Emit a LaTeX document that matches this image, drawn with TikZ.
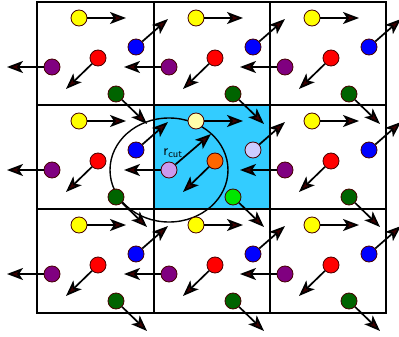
\documentclass[tikz,border=0pt]{standalone}
\usepackage{tikz}
\usetikzlibrary{arrows.meta}

\definecolor{cellblue}{RGB}{51,204,255}
\definecolor{ballrim}{RGB}{70,0,0}
\definecolor{tipred}{RGB}{60,0,0}
\definecolor{yelN}{RGB}{255,255,0}
\definecolor{bluN}{RGB}{0,0,255}
\definecolor{redN}{RGB}{255,0,0}
\definecolor{purN}{RGB}{128,0,128}
\definecolor{grnN}{RGB}{0,100,0}
\definecolor{yelL}{RGB}{255,255,170}
\definecolor{bluL}{RGB}{204,204,255}
\definecolor{redL}{RGB}{255,102,0}
\definecolor{purL}{RGB}{204,153,238}
\definecolor{grnL}{RGB}{0,230,0}

\begin{document}
\begin{tikzpicture}[x=1pt, y=-1pt]
		\tikzstyle{ball} = [circle, draw=ballrim, line width=0.8pt, minimum size=16pt, inner sep=0pt]
		\tikzstyle{vec} = [line width=1.7pt, -{Stealth[length=16pt, width=12pt, inset=4pt, fill=tipred]}]
		\tikzstyle{cell} = [line width=1.6pt]

		\useasboundingbox (0,0) rectangle (399,337);
		\clip (0,0) rectangle (399,337);

		\fill[cellblue] (154,105) rectangle (270,209);
		\draw[cell] (37,2) rectangle (386,313);
		\foreach \x in {154, 270} \draw[cell] (\x,2) -- (\x,313);
		\foreach \y in {105, 209} \draw[cell] (37,\y) -- (386,\y);

		\coordinate (cutc) at (169,170);
		\draw[line width=1.4pt] (cutc) ellipse [x radius=59, y radius=52];

		\foreach \cx/\cy/\n/\s in {37/2/a/N, 154/2/b/N, 270/2/c/N, 37/105/d/N, 154/105/e/L, 270/105/f/N, 37/209/g/N, 154/209/h/N, 270/209/i/N} {
			\node[ball, fill=yel\s] at ({\cx+42},{\cy+16}) (y\n) {};
			\node[ball, fill=blu\s] at ({\cx+99},{\cy+45}) (b\n) {};
			\node[ball, fill=red\s] at ({\cx+61},{\cy+56}) (r\n) {};
			\node[ball, fill=pur\s] at ({\cx+15},{\cy+65}) (p\n) {};
			\node[ball, fill=grn\s] at ({\cx+79},{\cy+92}) (g\n) {};

			\coordinate (vy\n) at ({\cx+89},{\cy+16});
			\coordinate (vb\n) at ({\cx+131},{\cy+17});
			\coordinate (vr\n) at ({\cx+29},{\cy+87});
			\coordinate (vp\n) at ({\cx-30},{\cy+65});
			\coordinate (vg\n) at ({\cx+110},{\cy+122});

			\draw[vec] (y\n) -- (vy\n);
			\draw[vec] (b\n) -- (vb\n);
			\draw[vec] (r\n) -- (vr\n);
			\draw[vec] (p\n) -- (vp\n);
			\draw[vec] (g\n) -- (vg\n);
		}

		\coordinate (rcut) at (211,134);
		\draw[vec] (pe) -- (rcut);
		\node[font=\sffamily\fontsize{15}{15}\selectfont, inner sep=0pt] at (173,153) (rlab) {r\textsubscript{cut}};
	\end{tikzpicture}
\end{document}
